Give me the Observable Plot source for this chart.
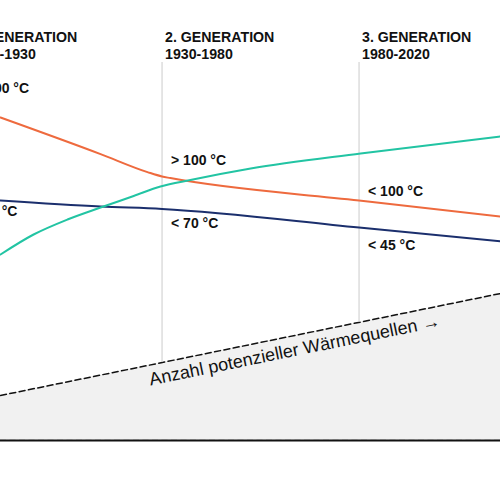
<!DOCTYPE html>
<html>
<head>
<meta charset="utf-8">
<script src="https://cdn.jsdelivr.net/npm/d3@7"></script>
<script src="https://cdn.jsdelivr.net/npm/@observablehq/plot@0.6"></script>
<style>
  html, body { margin: 0; padding: 0; background: #fff; overflow: hidden; }
  #chart { width: 500px; height: 500px; }
</style>
</head>
<body>
<div id="chart"></div>
<script>
// Generations
const genLabels = ["1. GENERATION", "2. GENERATION", "3. GENERATION"];
const genPeriods = ["1880-1930", "1930-1980", "1980-2020"];
const genStart = [1880, 1930, 1980];

// Temperature labels (supply / return): anchor year and level
const supplyLabels = ["< 200 °C", "> 100 °C", "< 100 °C"];
const supplyLabelX = [1880, 1930, 1980];
const supplyLabelY = [87, 69, 61.1];
const returnLabels = ["< 70 °C", "< 70 °C", "< 45 °C"];
const returnLabelX = [1879, 1930, 1980];
const returnLabelY = [56.25, 53.25, 47.75];

// Supply temperature line (orange)
const supplyYears = [1889, 1914.4, 1926.3, 1930, 1932.1, 1980, 2015.9];
const supplyTemp  = [80.75, 71.6, 67.1, 66, 65.6, 60, 56];

// Return temperature line (navy)
const returnYears = [1889, 1914.4, 1930, 1980, 2015.9];
const returnTemp  = [60, 58.5, 57.9, 53.25, 49.8];

// Teal line
const tealYears = [1889, 1897.4, 1906, 1914.4, 1922.8, 1929.6, 1937.2, 1952.5, 1980.4, 2015.9];
const tealValues = [46.5, 51.5, 55.25, 58.25, 61.125, 63.5, 65.125, 68, 71.75, 76];

// Number of potential heat sources (dashed, shaded)
const potentialYears = [1889, 2015.9];
const potentialValues = [11.25, 36.75];
const potentialLabel = "Anzahl potenzieller Wärmequellen →";
const potentialLabelYear = 1927.1;

const separatorTop = 94.5;

const zip = (xs, ys) => xs.map((x, i) => ({x, y: ys[i]}));
const supply = zip(supplyYears, supplyTemp);
const ret = zip(returnYears, returnTemp);
const teal = zip(tealYears, tealValues);
const potential = zip(potentialYears, potentialValues);
const potAt = (yr) => {
  const [x0, x1] = potentialYears, [y0, y1] = potentialValues;
  return y0 + (y1 - y0) * (yr - x0) / (x1 - x0);
};

const gens = genStart.map((s, i) => ({
  start: s,
  header: genLabels[i] + "\n" + genPeriods[i],
  supply: supplyLabels[i], supplyX: supplyLabelX[i], supplyY: supplyLabelY[i],
  ret: returnLabels[i], retX: returnLabelX[i], retY: returnLabelY[i],
  bottom: potAt(s)
}));

const font = "Liberation Sans, Arial, Helvetica, sans-serif";

const chart = Plot.plot({
  width: 500,
  height: 500,
  marginLeft: 0,
  marginRight: 0,
  marginTop: 40,
  marginBottom: 60,
  style: {fontFamily: font, background: "#fff", color: "#111"},
  x: {domain: [1889, 2015.9], axis: null},
  y: {domain: [0, 100], axis: null},
  marks: [
    Plot.areaY(potential, {x: "x", y: "y", fill: "#f1f1f1"}),
    Plot.line(potential, {x: "x", y: "y", stroke: "#111", strokeWidth: 1.5, strokeDasharray: "6,3.5"}),
    Plot.ruleY([0], {stroke: "#111", strokeWidth: 2.2}),
    Plot.ruleY([0], {stroke: "#777", strokeWidth: 1, strokeDasharray: "6,3.5", dy: -1}),
    Plot.ruleX(gens, {x: "start", y1: "bottom", y2: () => separatorTop, stroke: "#d4d4d4", strokeWidth: 1.2}),
    Plot.line(supply, {x: "x", y: "y", stroke: "#EE6A3E", strokeWidth: 2, curve: "monotone-x"}),
    Plot.line(ret, {x: "x", y: "y", stroke: "#1B2F6D", strokeWidth: 2, curve: "monotone-x"}),
    Plot.line(teal, {x: "x", y: "y", stroke: "#22C4A3", strokeWidth: 2, curve: "monotone-x"}),
    Plot.text(gens, {x: "start", y: () => 95.4, text: "header", textAnchor: "start", lineAnchor: "bottom",
      dx: 3, fontSize: 14.2, fontWeight: "bold", lineHeight: 1.18, fill: "#111"}),
    Plot.text(gens, {x: "supplyX", y: "supplyY", text: "supply", textAnchor: "start", lineAnchor: "bottom",
      dx: 9, fontSize: 14, fontWeight: "bold", fill: "#111"}),
    Plot.text(gens, {x: "retX", y: "retY", text: "ret", textAnchor: "start", lineAnchor: "bottom",
      dx: 9, fontSize: 14, fontWeight: "bold", fill: "#111"}),
    Plot.text([potentialLabel], {x: () => potentialLabelYear, y: () => potAt(potentialLabelYear), text: d => d,
      textAnchor: "start", lineAnchor: "bottom", rotate: -11.5, dy: 20.5, fontSize: 18, fill: "#111"})
  ]
});
document.getElementById("chart").appendChild(chart);
</script>
</body>
</html>
